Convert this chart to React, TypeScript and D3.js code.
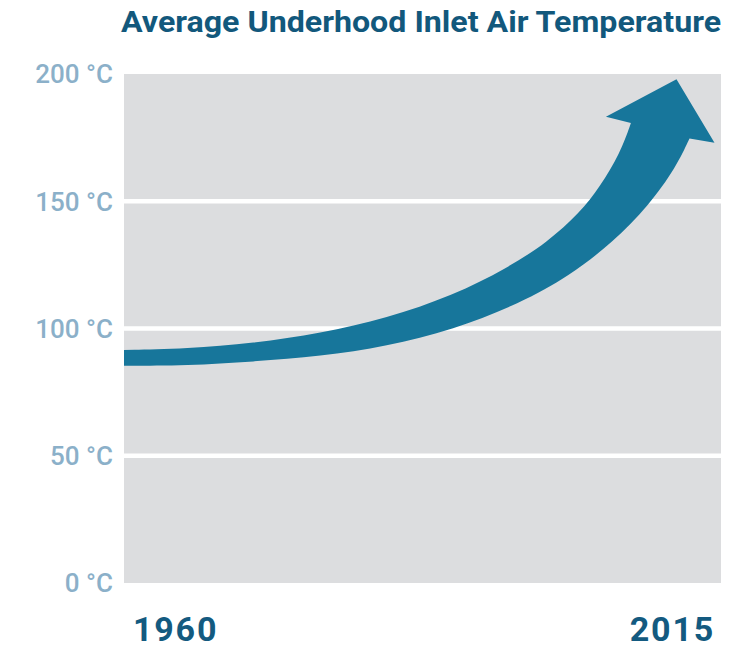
import React, { useRef, useEffect } from "react";
import * as d3 from "d3";

// years shown on the x axis
const years = [1960, 2015];
// temperature ticks in °C
const tempTicks = [0, 50, 100, 150, 200];

// arrow band edges as [year, °C]
const upperEdge: [number, number][] = [
  [1960, 91.6],
  [1965.8, 92.1],
  [1971.9, 94.2],
  [1978.1, 98.1],
  [1984.2, 104.0],
  [1990.3, 113.0],
  [1995.3, 123.7],
  [1999.0, 133.9],
  [2002.0, 145.5],
  [2003.85, 155.7],
  [2005.7, 168.8],
  [2006.7, 180.7],
];
const lowerEdge: [number, number][] = [
  [1960, 85.4],
  [1965.8, 85.4],
  [1971.9, 87.0],
  [1978.1, 89.0],
  [1984.2, 93.1],
  [1990.3, 99.4],
  [1996.5, 109.9],
  [2001.0, 120.5],
  [2005.1, 134.1],
  [2008.3, 148.0],
  [2010.9, 163.6],
  [2012.1, 174.7],
];
// left barb, tip, right barb
const arrowHead: [number, number][] = [
  [2004.4, 183.2],
  [2010.9, 197.9],
  [2014.4, 173.0],
];

const W = 744;
const H = 647;
const margin = { top: 74, right: 23, bottom: 64, left: 124 };

const App = () => {
  const svgRef = useRef<SVGSVGElement>(null);

  useEffect(() => {
    const svg = d3.select(svgRef.current);
    svg.selectAll("*").remove();

    const x = d3
      .scaleLinear()
      .domain([years[0], years[years.length - 1]])
      .range([margin.left, W - margin.right]);
    const y = d3
      .scaleLinear()
      .domain([0, 200])
      .range([H - margin.bottom, margin.top]);

    // plot background
    svg
      .append("rect")
      .attr("x", x(years[0]))
      .attr("y", y(200))
      .attr("width", x(years[1]) - x(years[0]))
      .attr("height", y(0) - y(200))
      .attr("fill", "#dcdddf");

    // gridlines
    svg
      .selectAll(".grid")
      .data(tempTicks.filter((t) => t > 0 && t < 200))
      .enter()
      .append("line")
      .attr("class", "grid")
      .attr("x1", x(years[0]))
      .attr("x2", x(years[1]))
      .attr("y1", (d) => y(d))
      .attr("y2", (d) => y(d))
      .attr("stroke", "#fff")
      .attr("stroke-width", 4.5);

    // y labels
    svg
      .selectAll(".ylab")
      .data(tempTicks)
      .enter()
      .append("text")
      .attr("class", "ylab")
      .attr("x", margin.left - 11)
      .attr("y", (d) => y(d))
      .attr("dy", "0.36em")
      .attr("text-anchor", "end")
      .attr("font-family", "Roboto, sans-serif")
      .attr("font-weight", 500)
      .attr("font-size", 26)
      .attr("fill", "#8bb0c9")
      .text((d) => `${d} °C`);

    // arrow band
    const edge = d3
      .line<[number, number]>()
      .x((d) => x(d[0]))
      .y((d) => y(d[1]))
      .curve(d3.curveBasis);
    const head = arrowHead.map((d) => `L${x(d[0])},${y(d[1])}`).join("");
    const lower = (edge([...lowerEdge].reverse()) || "").replace(/^M/, "L");
    svg
      .append("path")
      .attr("d", (edge(upperEdge) || "") + head + lower + "Z")
      .attr("fill", "#17769b");

    // x labels
    const xlab = (t: number, anchor: string, px: number) =>
      svg
        .append("text")
        .attr("x", px)
        .attr("y", 641)
        .attr("text-anchor", anchor)
        .attr("font-family", "Roboto, sans-serif")
        .attr("font-weight", 700)
        .attr("font-size", 34)
        .attr("letter-spacing", 1.8)
        .attr("fill", "#135a80")
        .text(t);
    xlab(years[0], "start", x(years[0]) + 9);
    xlab(years[1], "end", x(years[1]) - 6);

    // title
    svg
      .append("text")
      .attr("x", 121)
      .attr("y", 32)
      .attr("font-family", "Roboto, sans-serif")
      .attr("font-weight", 700)
      .attr("font-size", 30)
      .attr("textLength", 600)
      .attr("lengthAdjust", "spacingAndGlyphs")
      .attr("fill", "#12587c")
      .text("Average Underhood Inlet Air Temperature");
  }, []);

  return (
    <>
      <style>{`body{margin:0}`}</style>
      <svg ref={svgRef} width={W} height={H} style={{ display: "block" }} />
    </>
  );
};

export default App;
